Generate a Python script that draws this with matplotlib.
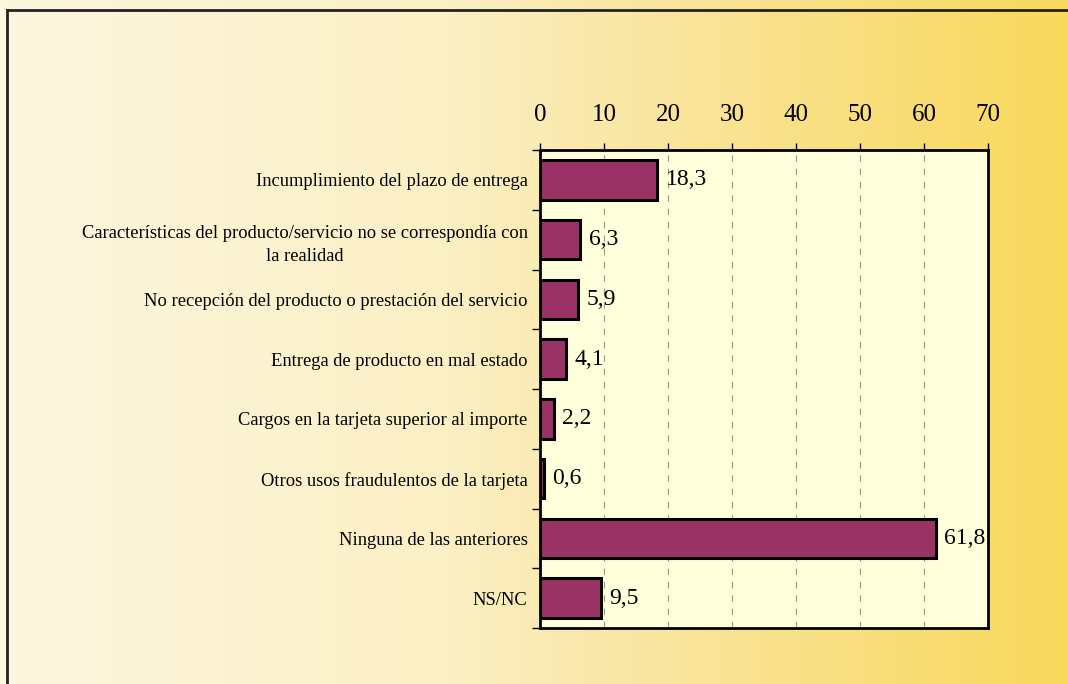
import numpy as np
import matplotlib
matplotlib.use("Agg")
import matplotlib.pyplot as plt
from matplotlib.colors import LinearSegmentedColormap
from matplotlib.ticker import MultipleLocator, FixedLocator

categorias = [
    "Incumplimiento del plazo de entrega",
    "Características del producto/servicio no se correspondía con\nla realidad",
    "No recepción del producto o prestación del servicio",
    "Entrega de producto en mal estado",
    "Cargos en la tarjeta superior al importe",
    "Otros usos fraudulentos de la tarjeta",
    "Ninguna de las anteriores",
    "NS/NC",
]
valores = [18.3, 6.3, 5.9, 4.1, 2.2, 0.6, 61.8, 9.5]
etiquetas = ["18,3", "6,3", "5,9", "4,1", "2,2", "0,6", "61,8", "9,5"]

plt.rcParams["font.family"] = ["Liberation Serif", "DejaVu Serif"]

fig = plt.figure(figsize=(10.68, 6.84), dpi=100)

# Fondo degradado de la figura (crema a amarillo)
fondo = fig.add_axes([0, 0, 1, 1], zorder=-10)
grad = LinearSegmentedColormap.from_list(
    "fondo", [(0.0, "#fdf7e0"), (0.42, "#fbefc4"), (0.72, "#f9e18c"), (1.0, "#f8d95c")])
fondo.imshow(np.linspace(0, 1, 256).reshape(1, -1), cmap=grad, aspect="auto",
             extent=[0, 1, 0, 1], transform=fondo.transAxes)
fondo.set_axis_off()

# Marco del gráfico (solo izquierda y arriba quedan dentro)
fig.add_artist(plt.Line2D([7 / 1068, 7 / 1068], [0, 1 - 10 / 684], color="#222222",
                          lw=2, transform=fig.transFigure))
fig.add_artist(plt.Line2D([7 / 1068, 1], [1 - 10 / 684, 1 - 10 / 684], color="#222222",
                          lw=2, transform=fig.transFigure))

ax = fig.add_axes([540 / 1068, 1 - 628 / 684, 448 / 1068, 478 / 684])
ax.set_facecolor("#ffffdc")

y = np.arange(len(valores))
ax.barh(y, valores, height=0.66, color="#993366", edgecolor="black", linewidth=2.2, zorder=3)
for yi, v, t in zip(y, valores, etiquetas):
    ax.annotate(t, (v, yi), xytext=(6, 0), textcoords="offset points",
                va="center", ha="left", fontsize=17, zorder=4)

ax.set_xlim(0, 70)
ax.set_ylim(len(valores) - 0.5, -0.5)
ax.xaxis.set_major_locator(MultipleLocator(10))
ax.xaxis.tick_top()
ax.tick_params(axis="x", which="major", labelsize=18, length=5, width=1, pad=12, direction="out")
ax.grid(axis="x", linestyle=(0, (6, 6)), color="#999999", linewidth=0.8, zorder=1)

ax.set_yticks(y)
ax.set_yticklabels(categorias, fontsize=13.3, multialignment="center", linespacing=1.5)
ax.tick_params(axis="y", which="major", length=0, pad=9)
ax.yaxis.set_minor_locator(FixedLocator(np.arange(-0.5, len(valores), 1)))
ax.tick_params(axis="y", which="minor", length=6, width=1, direction="out")

for lado in ["top", "left", "right", "bottom"]:
    ax.spines[lado].set_linewidth(2)
    ax.spines[lado].set_color("black")

fig.savefig("out.png", dpi=100)
